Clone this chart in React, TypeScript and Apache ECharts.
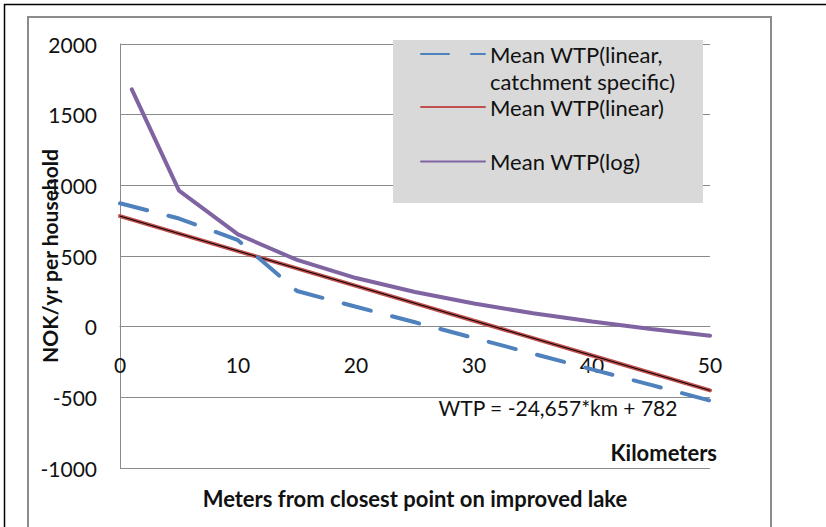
import { useEffect, useRef } from "react";
import * as echarts from "echarts";

// Data
const kmLinear = [0, 10, 20, 30, 40, 50];
const wtpLinear = [782, 535, 289, 42, -204, -451];

const kmCatchment = [0, 5, 10, 15, 20, 25, 30, 35, 40, 45, 50];
const wtpCatchment = [873, 765, 612, 252, 141, 31, -80, -191, -302, -412, -523];

const kmLog = [1, 5, 10, 15, 20, 25, 30, 35, 40, 45, 50];
const wtpLog = [1679, 962, 653, 472, 344, 245, 164, 95, 36, -17, -64];

const seriesNames = [
  "Mean WTP(linear, catchment specific)",
  "Mean WTP(linear)",
  "Mean WTP(log)",
];
const trendName = "Linear trendline";
const equationText = "WTP = -24,657*km + 782";
const xUnitText = "Kilometers";
const xTitle = "Meters from closest point on improved lake";
const yTitle = "NOK/yr per household";

const FONT = "Lato, 'Open Sans', sans-serif";
const GRID = "#8a8a8a";
const TXT = "#111";

const zip = (xs: number[], ys: number[]) => xs.map((x, i) => [x, ys[i]]);

export default function App() {
  const ref = useRef<HTMLDivElement>(null);
  useEffect(() => {
    if (!ref.current) return;
    const chart = echarts.init(ref.current, undefined, { renderer: "svg" });
    const legendText = { fontFamily: FONT, fontSize: 22, color: TXT, lineHeight: 22 };
    const legendCommon = {
      left: 420,
      padding: 0,
      itemWidth: 64,
      itemHeight: 14,
      itemStyle: { color: "transparent", borderColor: "transparent", borderWidth: 0 },
      textStyle: legendText,
    };
    chart.setOption({
      animation: false,
      backgroundColor: "#fff",
      textStyle: { fontFamily: FONT },
      grid: { left: 120, right: 116, top: 44, bottom: 59, containLabel: false, outerBoundsMode: "none" },
      xAxis: {
        type: "value",
        min: 0,
        max: 50,
        interval: 10,
        // keep the x axis on the y = 0 line (offset is a fallback if onZero is ignored)
        offset: -141.4,
        axisLine: { onZero: true, onZeroAxisIndex: 0, lineStyle: { color: GRID, width: 1 } },
        axisTick: { show: false },
        splitLine: { show: false },
        axisLabel: { fontFamily: FONT, fontSize: 21, color: TXT, margin: 27 },
        name: xTitle,
        nameLocation: "middle",
        nameGap: 161,
        nameMoveOverlap: false,
        nameTextStyle: { fontFamily: FONT, fontSize: 22, fontWeight: "bold", color: TXT },
      },
      yAxis: {
        type: "value",
        min: -1000,
        max: 2000,
        interval: 500,
        axisLine: { show: true, onZero: false, lineStyle: { color: GRID, width: 1 } },
        axisTick: { show: false },
        splitLine: { show: true, lineStyle: { color: GRID, width: 1 } },
        axisLabel: {
          fontFamily: FONT,
          fontSize: 21,
          color: TXT,
          margin: 23,
          formatter: (v: number) => String(v),
        },
        name: yTitle,
        nameLocation: "middle",
        nameGap: 60,
        nameMoveOverlap: false,
        nameTextStyle: { fontFamily: FONT, fontSize: 21, fontWeight: "bold", color: TXT },
      },
      legend: [
        {
          ...legendCommon,
          data: [seriesNames[0]],
          top: 13.5,
          textStyle: { ...legendText, lineHeight: 27 },
          formatter: () => "\nMean WTP(linear,\ncatchment specific)",
        },
        { ...legendCommon, data: [seriesNames[1]], top: 96 },
        { ...legendCommon, data: [seriesNames[2]], top: 150.5 },
      ],
      graphic: [
        {
          type: "rect",
          silent: true,
          z: 100,
          shape: { x: 4.5, y: 4.5, width: 1000, height: 1000 },
          style: { fill: "none", stroke: "#000", lineWidth: 1.5 },
        },
        {
          type: "rect",
          silent: true,
          z: 100,
          shape: { x: 28, y: 17, width: 743, height: 1000 },
          style: { fill: "none", stroke: "#8c8c8c", lineWidth: 2 },
        },
        {
          type: "rect",
          silent: true,
          z: 3,
          shape: { x: 393, y: 40, width: 310, height: 163 },
          style: { fill: "#d9d9d9" },
        },
        {
          type: "text",
          silent: true,
          z: 5,
          x: 558,
          y: 407,
          style: {
            text: equationText,
            fontFamily: FONT,
            fontSize: 21,
            fill: TXT,
            align: "center",
            verticalAlign: "middle",
          },
        },
        {
          type: "text",
          silent: true,
          z: 5,
          x: 717,
          y: 452,
          style: {
            text: xUnitText,
            fontFamily: FONT,
            fontSize: 22,
            fontWeight: "bold",
            fill: TXT,
            align: "right",
            verticalAlign: "middle",
          },
        },
      ],
      series: [
        {
          name: seriesNames[0],
          type: "line",
          data: zip(kmCatchment, wtpCatchment),
          showSymbol: false,
          symbol: "none",
          z: 3,
          lineStyle: { color: "#4f81bd", width: 4, type: [28, 22], cap: "round" },
          itemStyle: { color: "#4f81bd" },
        },
        {
          name: seriesNames[1],
          type: "line",
          data: zip(kmLinear, wtpLinear),
          showSymbol: false,
          symbol: "none",
          z: 2,
          lineStyle: { color: "#c0504d", width: 4, cap: "round" },
          itemStyle: { color: "#c0504d" },
        },
        {
          name: trendName,
          type: "line",
          data: zip(kmLinear, wtpLinear),
          showSymbol: false,
          symbol: "none",
          z: 2,
          lineStyle: { color: "#000", width: 1 },
          itemStyle: { color: "#000" },
        },
        {
          name: seriesNames[2],
          type: "line",
          data: zip(kmLog, wtpLog),
          showSymbol: false,
          symbol: "none",
          z: 2,
          lineStyle: { color: "#8064a2", width: 4, cap: "round" },
          itemStyle: { color: "#8064a2" },
        },
      ],
    });
    return () => chart.dispose();
  }, []);
  return (
    <div
      ref={ref}
      style={{ position: "fixed", left: 0, top: 0, width: 826, height: 527 }}
    />
  );
}
